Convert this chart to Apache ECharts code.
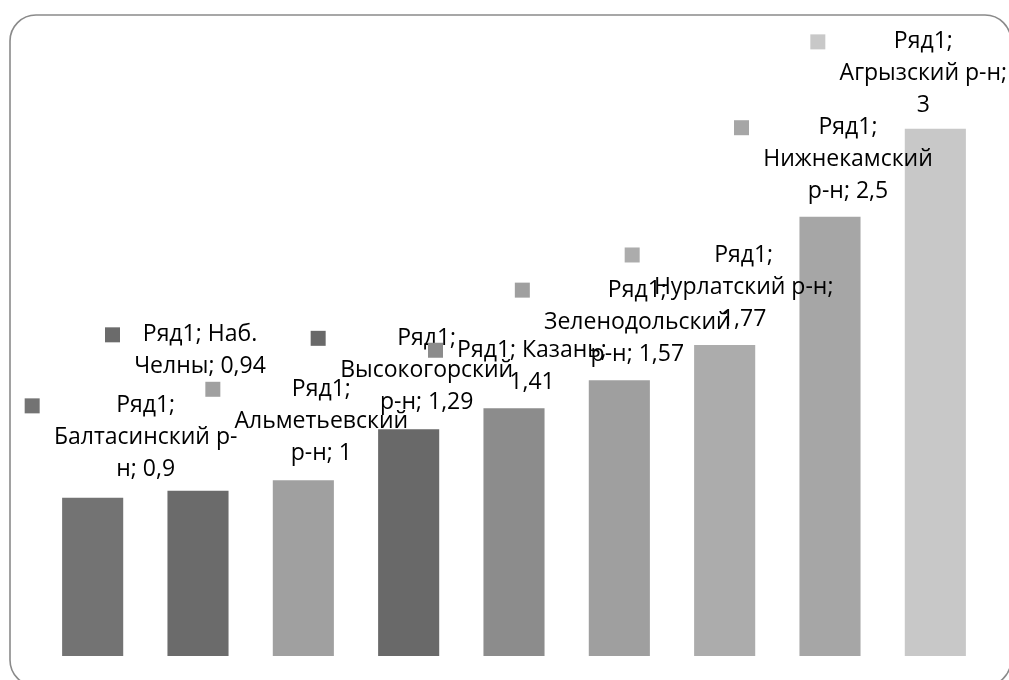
<!DOCTYPE html>
<html>
<head>
<meta charset="utf-8">
<script src="https://cdn.jsdelivr.net/npm/echarts@6/dist/echarts.min.js"></script>
<style>
  html, body { margin: 0; padding: 0; background: #ffffff; }
  #chart { width: 1009px; height: 680px; }
</style>
</head>
<body>
<div id="chart"></div>
<script>
// ---- data ----
const seriesName = 'Ряд1';
const categories = [
  'Балтасинский р-н', 'Наб. Челны', 'Альметьевский р-н', 'Высокогорский р-н',
  'Казань', 'Зеленодольский р-н', 'Нурлатский р-н', 'Нижнекамский р-н', 'Агрызский р-н'
];
const values = [0.9, 0.94, 1, 1.29, 1.41, 1.57, 1.77, 2.5, 3];
const barColors = ['#737373', '#6b6b6b', '#a0a0a0', '#696969', '#8c8c8c', '#9f9f9f', '#acacac', '#a6a6a6', '#c8c8c8'];

// ---- label layout (wrapping: tokens per line; offsets of the label box) ----
const lineTokenCounts = [[1, 2, 2], [2, 2], [1, 1, 3], [1, 1, 3], [2, 1], [1, 1, 3], [1, 3, 1], [1, 1, 3], [1, 3, 1]];
const labelOffsets = [[39, -2], [-12, -98], [4, -1], [4, -1], [4, 0], [4, 0], [5, 0], [4, 1], [-26, 3]];

const FONT = '"Open Sans", "Noto Sans", sans-serif';
const FS = 23, LH = 32, KEY = 15, GAP = 13;

const measureCtx = document.createElement('canvas').getContext('2d');
measureCtx.font = FS + 'px ' + FONT;

function fmt(v) { return String(v).replace('.', ','); }
function wrapLines(i) {
  const full = seriesName + '; ' + categories[i] + '; ' + fmt(values[i]);
  const tokens = full.match(/[^ \-]*(?:-| +|$)/g).filter(t => t.length);
  const lines = [];
  let k = 0;
  lineTokenCounts[i].forEach(n => { lines.push(tokens.slice(k, k + n).join('').trim()); k += n; });
  if (k < tokens.length) lines[lines.length - 1] += tokens.slice(k).join('');
  return lines;
}
const labelLines = values.map((v, i) => wrapLines(i));
const blockWidths = labelLines.map(ls => Math.ceil(Math.max(...ls.map(l => measureCtx.measureText(l).width))) + 2);

const rich = {
  g: { width: GAP, lineHeight: LH, fontSize: 4 },
  s: { width: KEY + GAP, lineHeight: LH, fontSize: 4 }
};
values.forEach((v, i) => {
  rich['k' + i] = { width: KEY, height: KEY, backgroundColor: barColors[i], lineHeight: LH, fontSize: 4, verticalAlign: 'middle' };
  rich['t' + i] = { width: blockWidths[i], align: 'center', lineHeight: LH, fontSize: FS, fontFamily: FONT, color: '#000000' };
});

const data = values.map((v, i) => ({
  value: v,
  itemStyle: { color: barColors[i] },
  label: { offset: labelOffsets[i] }
}));

const chart = echarts.init(document.getElementById('chart'), null, { renderer: 'canvas' });
chart.setOption({
  backgroundColor: '#ffffff',
  animation: false,
  graphic: [{
    type: 'rect', z: -10, silent: true,
    shape: { x: 10, y: 15, width: 1001, height: 671, r: 26 },
    style: { fill: 'none', stroke: '#8a8a8a', lineWidth: 1.6 }
  }],
  grid: { left: 40, right: 21, top: 41, bottom: 24, containLabel: false },
  xAxis: { type: 'category', data: categories, show: false },
  yAxis: { type: 'value', min: 0, max: 3.5, show: false, splitLine: { show: false } },
  series: [{
    name: seriesName,
    type: 'bar',
    data: data,
    barCategoryGap: '42%',
    label: {
      show: true,
      position: 'top',
      distance: 10,
      align: 'center',
      fontFamily: FONT,
      fontSize: FS,
      lineHeight: LH,
      color: '#000000',
      formatter: function (p) {
        const i = p.dataIndex;
        return labelLines[i].map((l, j) => j === 0
          ? '{k' + i + '| }{g| }{t' + i + '|' + l + '}'
          : '{s| }{t' + i + '|' + l + '}').join('\n');
      },
      rich: rich
    }
  }]
});
</script>
</body>
</html>
